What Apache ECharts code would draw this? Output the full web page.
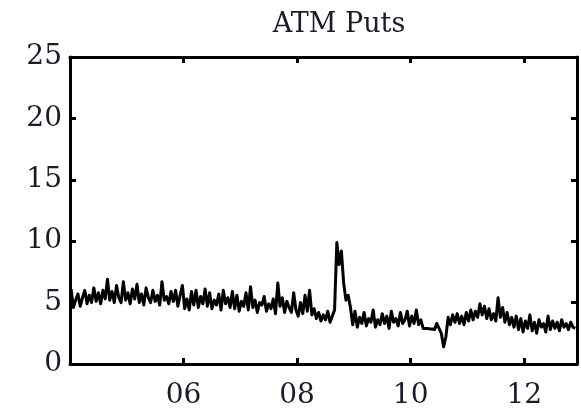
<!DOCTYPE html>
<html><head><meta charset="utf-8">
<title>ATM Puts</title>
<script src="https://cdn.jsdelivr.net/npm/echarts@6/dist/echarts.min.js"></script>
<style>
  html, body { margin:0; padding:0; background:#fff; }
  #chart { width:581px; height:410px; }
</style>
</head>
<body>
<div id="chart"></div>
<script type="text/javascript">
  // sampling grid of the series (fractional years)
  var startYear = 2004.02, step = 0.04;
  var xMin = 2004.0, xMax = 2012.93;
  var yearTicks = [2006, 2008, 2010, 2012];

  // values, roughly one row per year of samples
  var atmPuts = [
    6.1, 4.6, 5.2, 5.7, 4.7, 5.4, 6.0, 4.9, 5.6, 5.0, 6.2, 5.1, 5.8, 4.9, 6.0, 5.3, 6.9, 5.2, 5.9, 5.0, 6.4, 5.4,
    5.0, 6.7, 5.2, 5.8, 4.9, 6.1, 5.3, 6.5, 5.0, 5.7, 4.8, 6.2, 5.4, 5.0, 6.0, 5.1, 5.6, 4.8, 6.7, 5.2, 5.5, 4.9, 5.9, 5.1, 6.0,
    4.7, 5.6, 6.4, 4.5, 5.3, 4.4, 5.9, 4.8, 6.0, 4.6, 5.5, 4.9, 6.1, 4.7, 5.8, 4.5, 5.2, 4.8, 5.7, 4.4, 6.0, 4.9, 5.4, 4.6, 5.9,
    4.5, 5.6, 4.3, 5.1, 4.7, 5.8, 4.4, 6.3, 4.6, 5.2, 4.2, 5.0, 4.8, 5.5, 4.3, 4.9, 4.5, 5.3, 4.1, 6.6, 4.7, 5.4, 4.2, 5.1, 4.6,
    4.2, 5.8, 4.4, 3.9, 5.0, 4.1, 5.6, 4.3, 6.0, 4.0, 4.5, 3.7, 4.2, 3.5, 4.0, 3.6, 4.3, 3.4, 3.9, 4.4, 9.9, 8.1, 9.2, 6.6, 5.2,
    5.6, 4.6, 3.2, 4.3, 3.0, 3.8, 3.3, 4.2, 3.1, 3.7, 3.4, 4.4, 3.0, 3.6, 3.2, 4.1, 3.3, 3.9, 2.9, 4.3, 3.4, 3.7, 3.1, 4.2, 3.3,
    3.6, 4.3, 3.1, 3.9, 3.3, 4.4, 3.2, 3.6, 2.9, 2.9, 2.9, 2.85, 2.85, 2.8, 3.3, 2.9, 2.5, 1.4, 2.2, 3.8, 3.2, 4.0, 3.4, 4.1, 3.3,
    3.9, 3.2, 4.2, 3.5, 4.4, 3.6, 4.3, 3.8, 4.9, 4.0, 4.7, 3.7, 4.5, 3.6, 4.1, 3.5, 5.4, 3.8, 4.6, 3.4, 4.2, 3.2, 3.8, 3.0, 3.9,
    2.8, 3.7, 2.6, 3.5, 2.9, 4.0, 2.7, 3.4, 2.5, 3.6, 3.0, 3.3, 2.6, 3.9, 2.8, 3.5, 2.9, 3.4, 2.7, 3.6, 3.0, 3.3, 2.8, 3.4, 3.0, 2.9
  ];

  var serif = '"DejaVu Serif", "Liberation Serif", serif';
  var ink = '#1b1b2b';

  var points = atmPuts.map(function(v, i){ return [startYear + i*step, v]; });

  var chart = echarts.init(document.getElementById('chart'));

  function xAxisCfg(pos, showLabels){
    return {
      type:'value', position:pos, min:xMin, max:xMax,
      axisLine:{ show:true, onZero:false, lineStyle:{ color:'#000', width:3 } },
      axisTick:{ show:true, inside:true, length:6, lineStyle:{ color:'#000', width:3 }, customValues:yearTicks },
      axisLabel:{ show:showLabels, customValues:yearTicks, margin:18, color:ink,
        fontFamily:serif, fontSize:28,
        formatter:function(v){ return String(Math.round(v)).slice(2); } },
      splitLine:{ show:false }
    };
  }
  function yAxisCfg(pos, showLabels){
    return {
      type:'value', position:pos, min:0, max:25, interval:5,
      axisLine:{ show:true, onZero:false, lineStyle:{ color:'#000', width:3 } },
      axisTick:{ show:true, inside:true, length:6, lineStyle:{ color:'#000', width:3 } },
      axisLabel:{ show:showLabels, margin:8, color:ink, fontFamily:serif, fontSize:28 },
      splitLine:{ show:false }
    };
  }

  chart.setOption({
    animation:false,
    title:{ text:'ATM Puts', left:334, top:6, textAlign:'center',
      textStyle:{ fontFamily:serif, fontSize:27, fontWeight:'normal', color:ink } },
    grid:{ left:70, right:4, top:57, bottom:45 },
    xAxis:[ xAxisCfg('bottom', true), xAxisCfg('top', false) ],
    yAxis:[ yAxisCfg('left', true), yAxisCfg('right', false) ],
    series:[{
      type:'line', data:points, showSymbol:false,
      lineStyle:{ color:'#000', width:3, join:'round' }
    }]
  });
</script>
</body></html>
